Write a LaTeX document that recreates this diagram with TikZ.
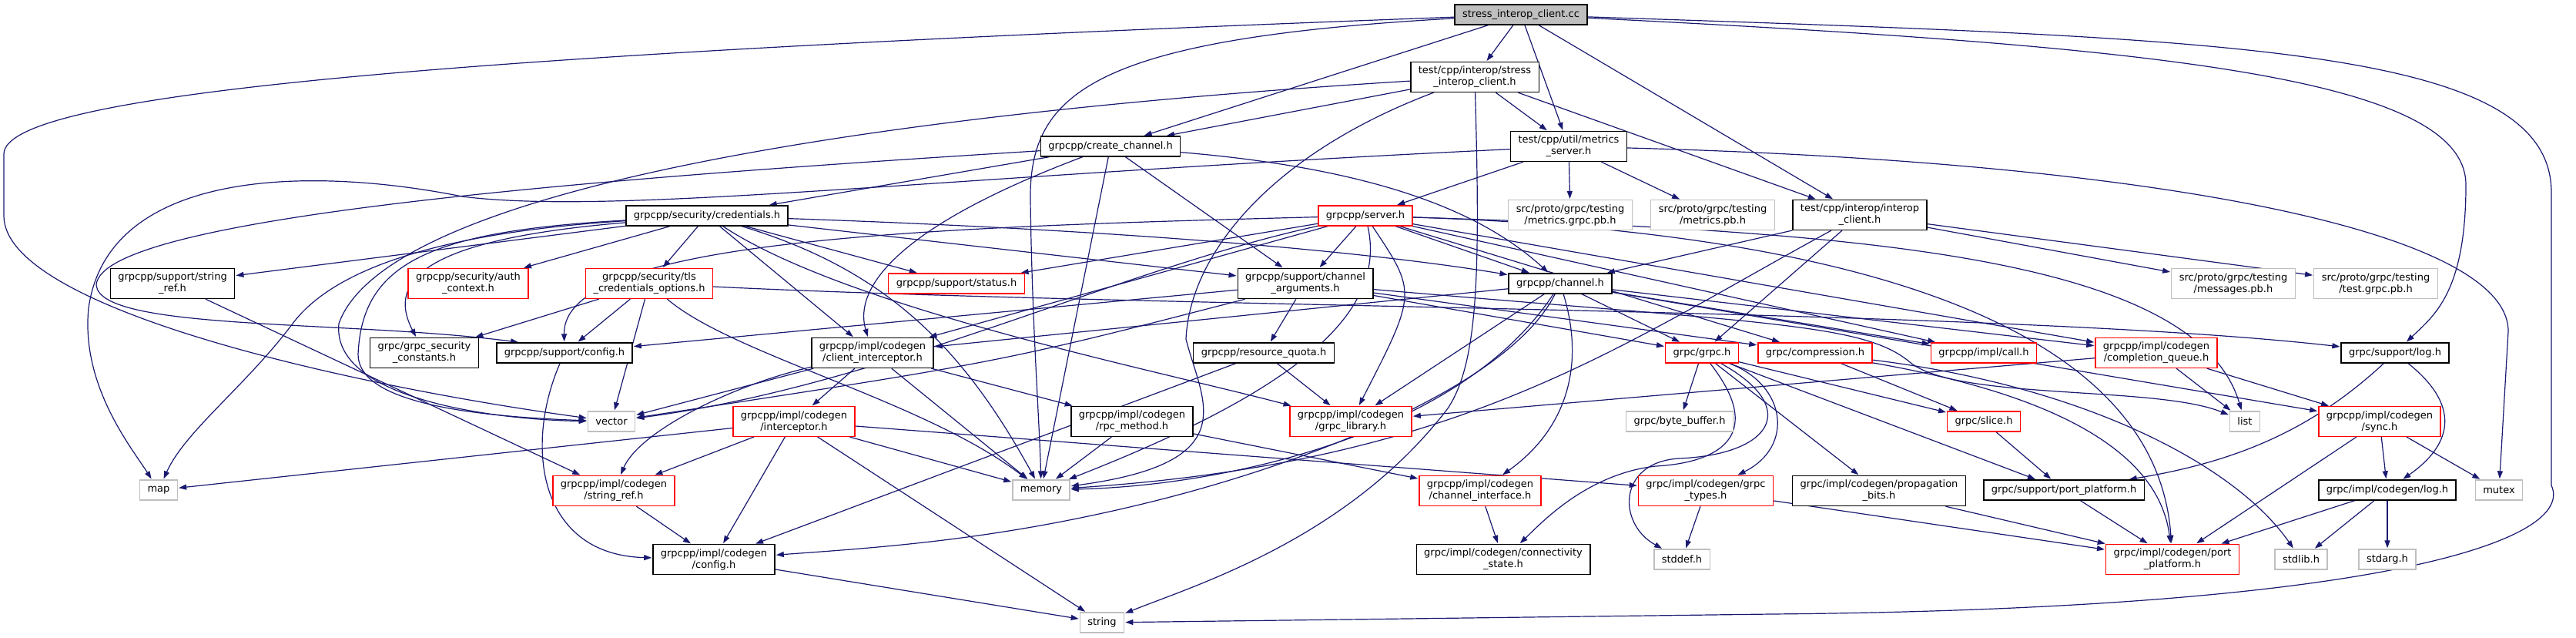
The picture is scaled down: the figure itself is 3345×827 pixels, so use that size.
\documentclass[tikz,border=0pt]{standalone}
\usepackage{fontspec}
\setmainfont{DejaVu Sans}
\usepackage{tikz}
\usetikzlibrary{arrows.meta,positioning,backgrounds}
\definecolor{edgeblue}{HTML}{191970}
\definecolor{grey75}{HTML}{BFBFBF}

\begin{document}
\begin{tikzpicture}[->,>={Triangle[length=10pt,width=7pt]},shorten >=1pt,
      x=1pt,y=-1pt,
      every node/.style={font=\fontsize{13}{15}\selectfont,align=center,
        inner xsep=10pt,inner ysep=5.5pt,minimum height=26pt,line width=1.4pt},
      hdr/.style={draw=black,fill=white},
      trunc/.style={draw=red,fill=white},
      ext/.style={draw=grey75,fill=white},
      root/.style={draw=black,fill=grey75},
      dep/.style={draw=edgeblue,line width=1.2pt},
      every edge/.style={dep}]
  \useasboundingbox (0,0) rectangle (3345,827);

  % row 0 - 2
  \node[root]  (cc)      at (1975,19)  {stress\_interop\_client.cc};
  \node[hdr]   (sich)    at (1915,100) {test/cpp/interop/stress\\\_interop\_client.h};
  \node[hdr]   (create)  at (1442,190) {grpcpp/create\_channel.h};
  \node[hdr]   (metsrv)  at (2037,190) {test/cpp/util/metrics\\\_server.h};
  % row 3
  \node[hdr]   (cred)    at (918,280)  {grpcpp/security/credentials.h};
  \node[trunc] (server)  at (1773,280) {grpcpp/server.h};
  \node[ext]   (metgrpc) at (2039,279) {src/proto/grpc/testing\\/metrics.grpc.pb.h};
  \node[ext]   (metpb)   at (2224,279) {src/proto/grpc/testing\\/metrics.pb.h};
  \node[hdr]   (interop) at (2415,279) {test/cpp/interop/interop\\\_client.h};
  % row 4
  \node[hdr]   (sref)    at (224,368)  {grpcpp/support/string\\\_ref.h};
  \node[trunc] (auth)    at (608,368)  {grpcpp/security/auth\\\_context.h};
  \node[trunc] (tls)     at (843,368)  {grpcpp/security/tls\\\_credentials\_options.h};
  \node[trunc] (status)  at (1242,368) {grpcpp/support/status.h};
  \node[hdr]   (chargs)  at (1695,368) {grpcpp/support/channel\\\_arguments.h};
  \node[hdr]   (channel) at (2026,368) {grpcpp/channel.h};
  \node[ext]   (msgpb)   at (2900,368) {src/proto/grpc/testing\\/messages.pb.h};
  \node[ext]   (testpb)  at (3085,368) {src/proto/grpc/testing\\/test.grpc.pb.h};
  % row 5
  \node[hdr]   (secconst) at (551,458) {grpc/grpc\_security\\\_constants.h};
  \node[hdr]   (config)  at (733,458)  {grpcpp/support/config.h};
  \node[hdr]   (clint)   at (1133,458) {grpcpp/impl/codegen\\/client\_interceptor.h};
  \node[hdr]   (quota)   at (1641,458) {grpcpp/resource\_quota.h};
  \node[trunc] (grpch)   at (2210,458) {grpc/grpc.h};
  \node[trunc] (compr)   at (2357,458) {grpc/compression.h};
  \node[trunc] (call)    at (2576,458) {grpcpp/impl/call.h};
  \node[trunc] (cq)      at (2800,458) {grpcpp/impl/codegen\\/completion\_queue.h};
  \node[hdr]   (slog)    at (3110,458) {grpc/support/log.h};
  % row 6
  \node[ext]   (vec)     at (794,547)  {vector};
  \node[trunc] (icept)   at (1031,547) {grpcpp/impl/codegen\\/interceptor.h};
  \node[hdr]   (rpcm)    at (1470,547) {grpcpp/impl/codegen\\/rpc\_method.h};
  \node[trunc] (glib)    at (1754,547) {grpcpp/impl/codegen\\/grpc\_library.h};
  \node[ext]   (bbuf)    at (2181,547) {grpc/byte\_buffer.h};
  \node[trunc] (slice)   at (2576,547) {grpc/slice.h};
  \node[ext]   (list)    at (2915,547) {list};
  \node[trunc] (sync)    at (3090,547) {grpcpp/impl/codegen\\/sync.h};
  % row 7
  \node[ext]   (map)     at (206,636)  {map};
  \node[trunc] (cref)    at (797,637)  {grpcpp/impl/codegen\\/string\_ref.h};
  \node[ext]   (mem)     at (1352,636) {memory};
  \node[trunc] (chif)    at (1922,637) {grpcpp/impl/codegen\\/channel\_interface.h};
  \node[trunc] (gtypes)  at (2215,637) {grpc/impl/codegen/grpc\\\_types.h};
  \node[hdr]   (prop)    at (2440,637) {grpc/impl/codegen/propagation\\\_bits.h};
  \node[hdr]   (spp)     at (2680,636) {grpc/support/port\_platform.h};
  \node[hdr]   (clog)    at (3100,636) {grpc/impl/codegen/log.h};
  \node[ext]   (mutex)   at (3245,636) {mutex};
  % row 8 - 9
  \node[hdr]   (ccfg)    at (927,726)  {grpcpp/impl/codegen\\/config.h};
  \node[hdr]   (conn)    at (1952,726) {grpc/impl/codegen/connectivity\\\_state.h};
  \node[ext]   (stddef)  at (2184,726) {stddef.h};
  \node[trunc] (cpp)     at (2821,726) {grpc/impl/codegen/port\\\_platform.h};
  \node[ext]   (stdlib)  at (2988,726) {stdlib.h};
  \node[ext]   (stdarg)  at (3100,726) {stdarg.h};
  \node[ext]   (str)     at (1431,808) {string};

  \begin{pgfonlayer}{background}
    % stress_interop_client.cc
    \path (cc) edge (sich) edge (create) edge (metsrv) edge (interop);
    \draw[dep] (cc) .. controls (600,70) and (5,120) .. (5,200) -- (5,280)
               .. controls (5,400) and (450,500) .. (vec);
    \draw[dep] (cc) .. controls (2900,50) and (3313,60) .. (3313,250) -- (3313,630)
               .. controls (3345,700) and (3100,790) .. (2300,797) -- (str);
    \draw[dep] (cc) .. controls (2800,60) and (3202,100) .. (3202,240)
               .. controls (3202,380) and (3160,410) .. (slog);
    \draw[dep] (cc) .. controls (1420,50) and (1336,120) .. (1338,260)
               .. controls (1340,420) and (1350,550) .. (mem);
    % stress_interop_client.h
    \path (sich) edge (create) edge (metsrv) edge (interop);
    \draw[dep] (sich) .. controls (1100,150) and (500,250) .. (440,420)
               .. controls (430,520) and (650,545) .. (vec);
    \draw[dep] (sich) .. controls (1922,350) and (1920,470) .. (1880,530)
               .. controls (1750,700) and (1550,760) .. (str);
    \draw[dep] (sich) .. controls (1650,200) and (1545,330) .. (1540,440)
               .. controls (1560,520) and (1620,600) .. (mem);
    % create_channel.h
    \path (create) edge (cred) edge (mem) edge (chargs);
    \draw[dep] (create) .. controls (1800,220) and (1930,280) .. (channel);
    \draw[dep] (create) .. controls (1150,300) and (1110,380) .. (clint);
    \draw[dep] (create) .. controls (800,230) and (130,280) .. (125,370)
               .. controls (130,430) and (450,415) .. ([xshift=30pt]config.north west);
    % metrics_server.h
    \path (metsrv) edge (server) edge (metgrpc) edge (metpb);
    \draw[dep] (metsrv) .. controls (1200,230) and (800,280) .. (600,255)
               .. controls (400,215) and (140,220) .. (115,400)
               .. controls (105,500) and (170,580) .. (map);
    \draw[dep] (metsrv) .. controls (2800,210) and (3257,300) .. (3257,430) -- (mutex);
    % interop_client.h
    \path (interop) edge (channel) edge (grpch) edge (msgpb) edge (testpb);
    \draw[dep] (interop) .. controls (2100,450) and (1900,600) .. (mem);
    % credentials.h
    \path (cred) edge (sref) edge (auth) edge (tls) edge (status)
          edge (chargs) edge (clint);
    \draw[dep] (cred) .. controls (1500,300) and (1800,330) .. (channel);
    \draw[dep] (cred) .. controls (1100,400) and (1500,480) .. (glib);
    \draw[dep] (cred) .. controls (1150,350) and (1250,450) .. (mem);
    \draw[dep] (cred) .. controls (560,300) and (470,340) .. (465,460)
               .. controls (465,520) and (600,540) .. (vec);
    \draw[dep] (cred) .. controls (560,310) and (500,360) .. (secconst);
    \draw[dep] (cred) .. controls (600,300) and (440,340) .. (380,420)
               .. controls (320,500) and (240,560) .. (map);
    % server.h
    \path (server) edge (status) edge (chargs) edge (channel) edge (clint)
          edge (compr) edge (call) edge (cq);
    \draw[dep] (server) .. controls (1200,295) and (730,310) .. (config);
    \draw[dep] (server) .. controls (1450,350) and (1150,500) .. (vec);
    \draw[dep] (server) .. controls (1800,400) and (1700,500) .. (mem);
    \draw[dep] (server) .. controls (1840,380) .. (glib);
    \draw[dep] (server) .. controls (2400,300) and (2850,330) .. (list);
    \draw[dep] (server) .. controls (2400,300) and (2800,420) .. (cpp);
    % tls_credentials_options.h
    \path (tls) edge (secconst) edge (config) edge (vec);
    \draw[dep] (tls) .. controls (950,460) and (1200,520) .. (mem);
    \draw[dep] (tls) .. controls (1500,400) and (2600,400) .. (slog);
    % channel_arguments.h
    \path (chargs) edge (quota) edge (config) edge (grpch) edge (compr);
    \draw[dep] (chargs) .. controls (1300,470) .. (vec);
    \draw[dep] (chargs) .. controls (2300,420) and (2420,420) .. (2480,470)
               .. controls (2540,520) and (2800,500) .. (list);
    % channel.h
    \path (channel) edge (grpch) edge (call) edge (cq) edge (glib) edge (sync)
          edge (clint);
    \draw[dep] (channel) .. controls (1900,560) and (1600,630) .. (mem);
    \draw[dep] (channel) .. controls (2060,480) and (2030,560) .. (chif);
    \draw[dep] (channel) .. controls (1960,500) and (1700,600) .. (1500,650)
               .. controls (1300,700) and (1150,710) .. (ccfg);
    % codegen headers
    \path (clint) edge (icept) edge (vec) edge (mem) edge (rpcm);
    \draw[dep] (clint) .. controls (950,500) and (830,560) .. (cref);
    \path (icept) edge (map) edge (cref) edge (ccfg) edge (mem) edge (str)
          edge (gtypes);
    \path (rpcm) edge (mem) edge (chif);
    \path (quota) edge (glib) edge (ccfg);
    \path (cq) edge (list) edge (sync) edge (glib);
    \path (sref) edge (cref);
    \path (cref) edge (ccfg);
    \draw[dep] (config) .. controls (680,580) and (700,720) .. (ccfg);
    \path (ccfg) edge (str);
    \path (chif) edge (conn);
    % grpc core headers
    \path (grpch) edge (bbuf) edge (slice) edge (spp) edge (prop);
    \draw[dep] (grpch) .. controls (2320,500) and (2330,580) .. (gtypes);
    \draw[dep] (grpch) .. controls (2290,560) and (2240,600) .. (2150,605)
               .. controls (2060,615) and (2000,680) .. (conn);
    \draw[dep] (grpch) .. controls (2340,530) and (2300,590) .. (2180,595)
               .. controls (2100,600) and (2100,680) .. (stddef);
    \path (compr) edge (slice);
    \draw[dep] (compr) .. controls (2600,500) and (2800,560) .. (cpp);
    \draw[dep] (compr) .. controls (2700,500) and (2900,600) .. (stdlib);
    \path (slice) edge (spp);
    \draw[dep] (slog) .. controls (3000,560) and (2900,600) .. (spp);
    \draw[dep] (slog) .. controls (3200,530) and (3180,580) .. (clog);
    \path (sync) edge (clog) edge (mutex) edge (cpp);
    \path (clog) edge (cpp) edge (stdlib) edge (stdarg);
    \path (gtypes) edge (stddef) edge (cpp);
    \path (prop) edge (cpp);
    \path (spp) edge (cpp);
  \end{pgfonlayer}
\end{tikzpicture}
\end{document}
